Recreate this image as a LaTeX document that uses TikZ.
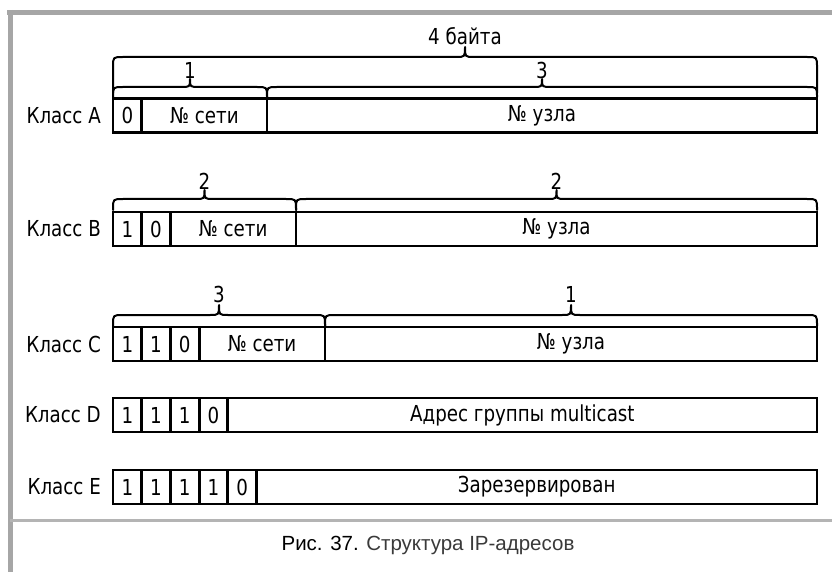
\documentclass[tikz,border=0pt]{standalone}
\usepackage{fontspec}
\setmainfont{DejaVu Sans}[FakeStretch=0.83]
\newfontfamily\capfont{Liberation Sans}
\definecolor{framegray}{HTML}{A6A6A6}
\definecolor{sepgray}{HTML}{B4B4B4}
\definecolor{capgray}{HTML}{3A3A3A}
\tikzset{
  cell/.style={draw, line width=2.8pt, minimum height=34pt, inner sep=0pt,
    font=\fontsize{22}{26}\selectfont},
  lbl/.style={anchor=east, inner sep=0pt, font=\fontsize{22}{26}\selectfont},
  numlbl/.style={inner sep=0pt, font=\fontsize{22}{26}\selectfont},
  bracel/.style={line width=2pt, line join=round, line cap=round},
}
% name, x1, x2, yc, text
\newcommand\cellnode[5]{\node[cell, minimum width={(#3-#2)*1pt}] (#1) at ({(#2+#3)/2},#4) {#5};}
% x1, x2, ybot, ybody, ytip
\newcommand\mybrace[5]{%
  \draw[bracel] (#1,#3) -- (#1,{#4+10}) .. controls (#1,#4) .. ({#1+10},#4)
    -- ({(#1+#2)/2-9},#4) .. controls ({(#1+#2)/2},#4) .. ({(#1+#2)/2},#5)
    .. controls ({(#1+#2)/2},#4) .. ({(#1+#2)/2+9},#4)
    -- ({#2-10},#4) .. controls (#2,#4) .. (#2,{#4+10}) -- (#2,#3);}
\begin{document}
\begin{tikzpicture}[x=1pt,y=-1pt]
\useasboundingbox (0,0) rectangle (832,572);
% frame
\draw[framegray, line width=4.5pt] (7,12.5) -- (832,12.5);
\draw[framegray, line width=5pt] (10,10) -- (10,572);
\draw[sepgray, line width=3pt] (10,520.5) -- (832,520.5);

% Class A
\node[lbl] (la) at (101,115.5) {Класс A};
\cellnode{a0}{113}{141.7}{115.5}{0}
\cellnode{anet}{141.7}{267}{115.5}{№ сети}
\cellnode{ahost}{267}{817}{115.5}{№ узла}
\mybrace{113}{817}{93}{57}{47}
\node[numlbl] (t4) at (465,36) {4 байта};
\mybrace{113}{267}{97}{87}{79}
\node[numlbl] (a1) at (190,70) {1};
\mybrace{267}{817}{97}{87}{79}
\node[numlbl] (a3) at (542,70) {3};

% Class B
\node[lbl] (lb) at (101,229) {Класс B};
\cellnode{b0}{113}{141.7}{229}{1}
\cellnode{b1}{141.7}{170.4}{229}{0}
\cellnode{bnet}{170.4}{296}{229}{№ сети}
\cellnode{bhost}{296}{817}{229}{№ узла}
\mybrace{113}{296}{210}{199}{190}
\node[numlbl] (b2l) at (204.5,181) {2};
\mybrace{296}{817}{210}{199}{190}
\node[numlbl] (b2r) at (556.5,181) {2};

% Class C
\node[lbl] (lc) at (101,344) {Класс C};
\cellnode{c0}{113}{141.7}{344}{1}
\cellnode{c1}{141.7}{170.4}{344}{1}
\cellnode{c2}{170.4}{199.1}{344}{0}
\cellnode{cnet}{199.1}{325}{344}{№ сети}
\cellnode{chost}{325}{817}{344}{№ узла}
\mybrace{113}{325}{326}{315}{305}
\node[numlbl] (c3) at (219,294) {3};
\mybrace{325}{817}{326}{315}{305}
\node[numlbl] (c1l) at (571,294) {1};

% Class D
\node[lbl] (ld) at (101,415) {Класс D};
\cellnode{d0}{113}{141.7}{415}{1}
\cellnode{d1}{141.7}{170.4}{415}{1}
\cellnode{d2}{170.4}{199.1}{415}{1}
\cellnode{d3}{199.1}{227.8}{415}{0}
\cellnode{drest}{227.8}{817}{415}{Адрес группы multicast}

% Class E
\node[lbl] (le) at (101,487) {Класс E};
\cellnode{e0}{113}{141.7}{487}{1}
\cellnode{e1}{141.7}{170.4}{487}{1}
\cellnode{e2}{170.4}{199.1}{487}{1}
\cellnode{e3}{199.1}{227.8}{487}{1}
\cellnode{e4}{227.8}{256.5}{487}{0}
\cellnode{erest}{256.5}{817}{487}{Зарезервирован}

% caption
\node[inner sep=0pt, font=\capfont\fontsize{20.5}{24}\selectfont] (cap) at (428,545)
  {\textcolor{black}{Рис. 37.} \textcolor{capgray}{Структура IP-адресов}};
\end{tikzpicture}
\end{document}
